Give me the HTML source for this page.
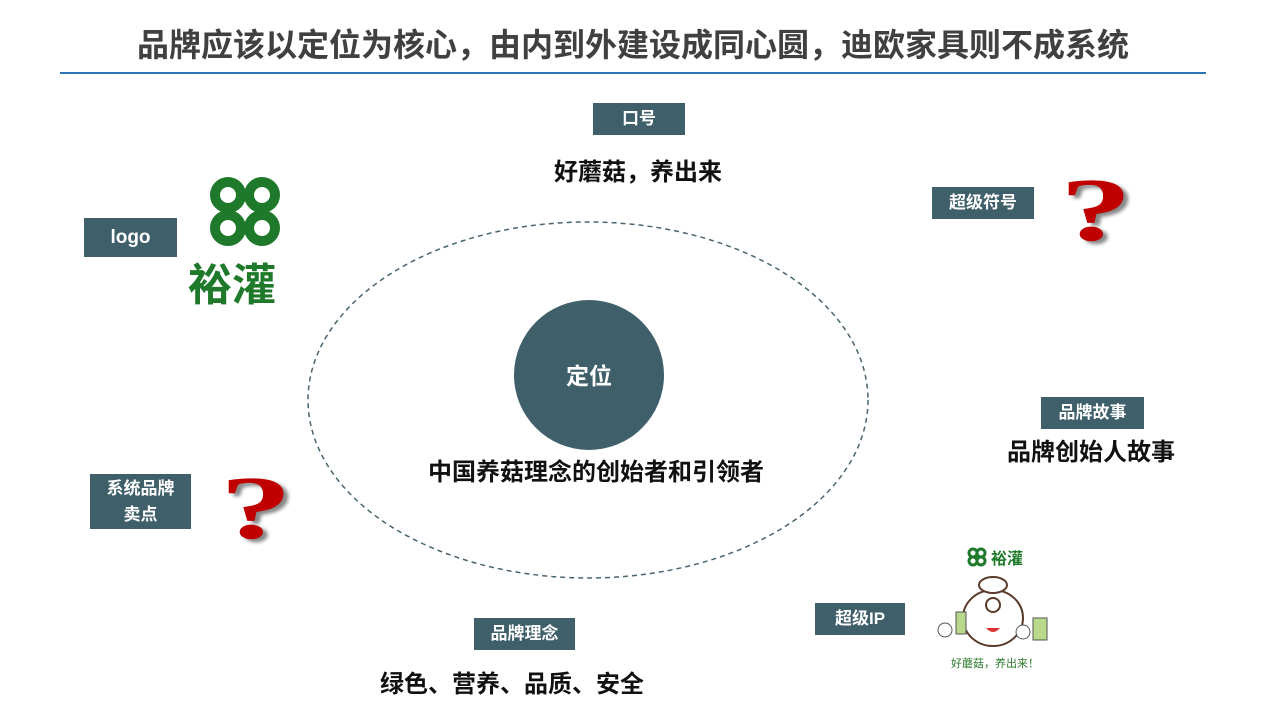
<!DOCTYPE html>
<html><head><meta charset="utf-8"><style>
body{margin:0;width:1266px;height:710px;background:#fff;position:relative;overflow:hidden;font-family:"Liberation Sans","Noto Sans CJK SC",sans-serif;}
.a{position:absolute;}
.b{position:absolute;background:#3f5f6b;color:#fff;font-weight:bold;font-size:17px;display:flex;align-items:center;justify-content:center;text-align:center;line-height:26px;}
.t{position:absolute;font-weight:bold;font-size:24px;color:#111;white-space:nowrap;transform:translateX(-50%);}
.q{position:absolute;color:#c00000;font-family:"Liberation Serif",serif;font-weight:bold;font-size:90px;line-height:1;text-shadow:3px 3px 3px #888;transform:scaleX(1.6);transform-origin:left top;}
</style></head><body>
<div class="a" style="left:0;width:1266px;top:20px;text-align:center;font-size:32px;font-weight:bold;color:#404040">品牌应该以定位为核心，由内到外建设成同心圆，迪欧家具则不成系统</div>
<div class="a" style="left:60px;top:72px;width:1146px;height:2px;background:#2e75b6"></div>

<svg class="a" style="left:0;top:0" width="1266" height="710">
<ellipse cx="588" cy="400" rx="280" ry="178" fill="none" stroke="#4a6470" stroke-width="1.5" stroke-dasharray="5,4"/>
<circle cx="589" cy="375" r="75" fill="#3f5f6b"/>
<text x="589" y="384" text-anchor="middle" fill="#fff" font-size="23" font-weight="bold" font-family="Liberation Sans,Noto Sans CJK SC,sans-serif">定位</text>
<g fill="none" stroke="#1e7a2a" stroke-width="10">
<circle cx="228" cy="195" r="13"/><circle cx="262" cy="195" r="13"/><circle cx="228" cy="228" r="13"/><circle cx="262" cy="228" r="13"/>
</g>
<text x="232" y="300" text-anchor="middle" fill="#1e7a2a" font-size="44" font-weight="bold" font-family="Noto Sans CJK SC,sans-serif">裕灌</text>
<g fill="none" stroke="#1e7a2a" stroke-width="3"><circle cx="973" cy="553" r="4"/><circle cx="981" cy="553" r="4"/><circle cx="973" cy="561" r="4"/><circle cx="981" cy="561" r="4"/></g>
<text x="1007" y="564" text-anchor="middle" fill="#1e7a2a" font-size="16" font-weight="bold" font-family="Noto Sans CJK SC,sans-serif">裕灌</text>
<ellipse cx="993" cy="618" rx="30" ry="28" fill="#fff" stroke="#5a3a2a" stroke-width="2"/>
<ellipse cx="993" cy="585" rx="14" ry="8" fill="#fff" stroke="#5a3a2a" stroke-width="2"/>
<circle cx="993" cy="605" r="7" fill="none" stroke="#5a3a2a" stroke-width="2"/>
<path d="M986 628 q7 8 14 0" fill="#d33"/>
<rect x="956" y="612" width="10" height="22" fill="#b8d88a" stroke="#555"/>
<rect x="1033" y="618" width="14" height="22" fill="#b8d88a" stroke="#555"/>
<circle cx="945" cy="630" r="7" fill="#fff" stroke="#555"/><circle cx="1023" cy="632" r="7" fill="#fff" stroke="#555"/>
<text x="995" y="667" text-anchor="middle" fill="#2a7a2a" font-size="11" font-family="Noto Sans CJK SC,sans-serif">好蘑菇，养出来！</text>
</svg>

<div class="b" style="left:593px;top:103px;width:92px;height:32px">口号</div>
<div class="t" style="left:638px;top:152px">好蘑菇，养出来</div>
<div class="b" style="left:932px;top:187px;width:102px;height:32px">超级符号</div>
<div class="q" style="left:1060px;top:166px">?</div>
<div class="b" style="left:84px;top:218px;width:93px;height:39px;font-size:19px">logo</div>
<div class="t" style="left:596px;top:452px">中国养菇理念的创始者和引领者</div>
<div class="b" style="left:1041px;top:397px;width:103px;height:32px">品牌故事</div>
<div class="t" style="left:1091px;top:432px">品牌创始人故事</div>
<div class="b" style="left:90px;top:474px;width:101px;height:55px">系统品牌<br>卖点</div>
<div class="q" style="left:220px;top:464px">?</div>
<div class="b" style="left:474px;top:618px;width:101px;height:32px">品牌理念</div>
<div class="t" style="left:512px;top:664px">绿色、营养、品质、安全</div>
<div class="b" style="left:815px;top:603px;width:90px;height:32px">超级IP</div>
</body></html>
